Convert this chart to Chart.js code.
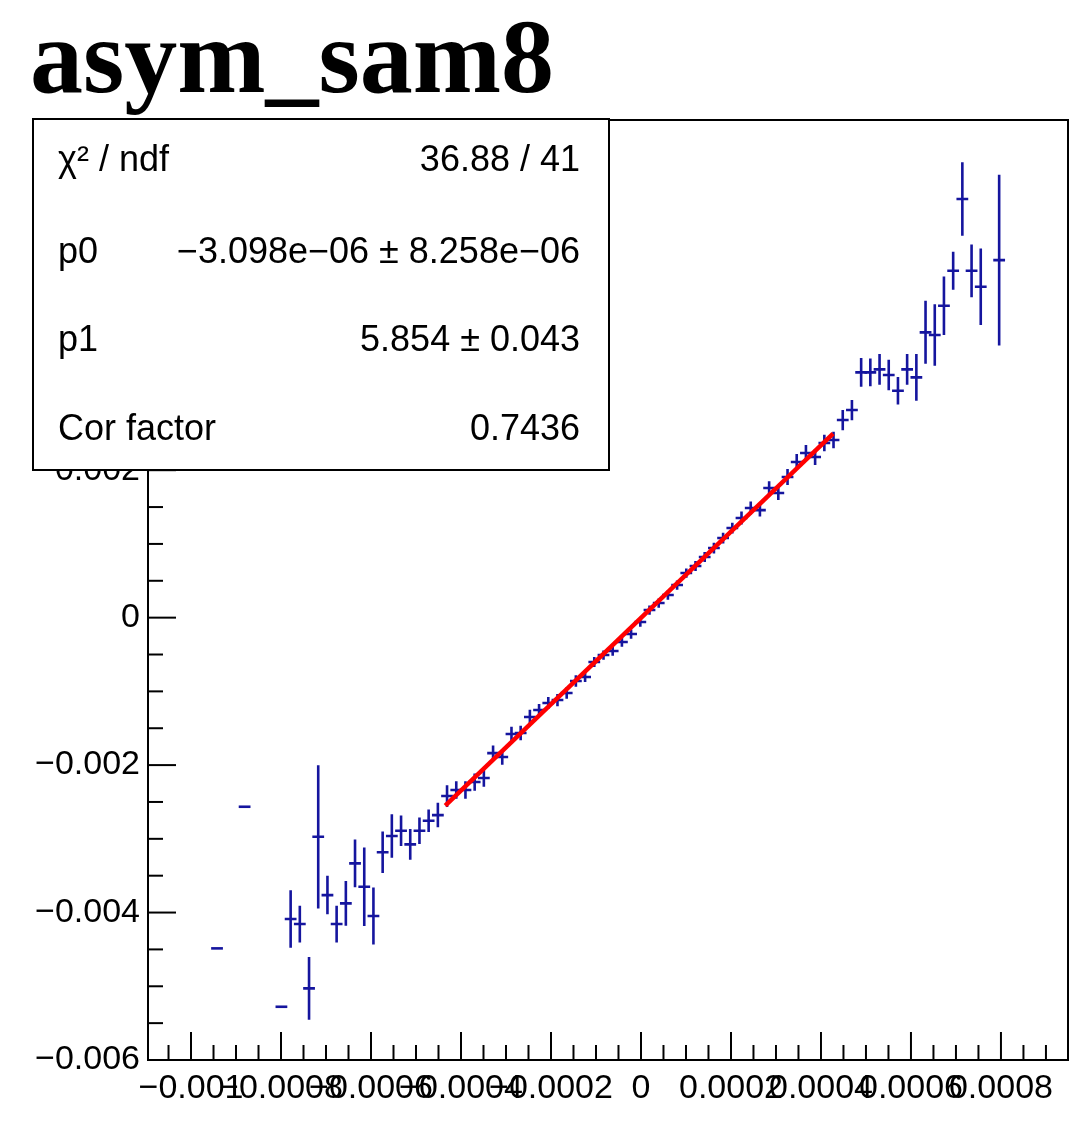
<!DOCTYPE html>
<html>
<head>
<meta charset="utf-8">
<title>asym_sam8</title>
<script src="https://cdn.jsdelivr.net/npm/chart.js@4.4.1/dist/chart.umd.min.js"></script>
<style>
  html, body { margin: 0; padding: 0; background: #fff; }
  canvas { display: block; }
</style>
</head>
<body>
<canvas id="asymChart" width="1088" height="1128"></canvas>
<script>
// bin centres, asymmetry per bin and its error (0 = single entry, no vertical bar)
var binCenters = [
  -0.0009422, -0.0008809, -0.0007991, -0.0007786, -0.0007582, -0.0007377, -0.0007173,
  -0.0006968, -0.0006764, -0.0006559, -0.0006355, -0.0006150, -0.0005946, -0.0005741,
  -0.0005537, -0.0005332, -0.0005128, -0.0004923, -0.0004719, -0.0004514, -0.0004310,
  -0.0004105, -0.0003901, -0.0003696, -0.0003492, -0.0003287, -0.0003083, -0.0002878,
  -0.0002674, -0.0002469, -0.0002265, -0.0002060, -0.0001856, -0.0001651, -0.0001447,
  -0.0001242, -0.0001038, -0.0000833, -0.0000629, -0.0000424, -0.0000220, -0.0000015,
  0.0000189, 0.0000394, 0.0000598, 0.0000803, 0.0001007, 0.0001212, 0.0001416,
  0.0001621, 0.0001825, 0.0002030, 0.0002234, 0.0002439, 0.0002643, 0.0002848,
  0.0003052, 0.0003257, 0.0003461, 0.0003666, 0.0003870, 0.0004075, 0.0004279,
  0.0004484, 0.0004688, 0.0004893, 0.0005097, 0.0005302, 0.0005506, 0.0005711,
  0.0005915, 0.0006120, 0.0006324, 0.0006529, 0.0006733, 0.0006938, 0.0007142,
  0.0007347, 0.0007551, 0.0007960
];
var asymValues = [
  -0.004486, -0.002565, -0.005278, -0.004088, -0.004156, -0.005028, -0.002972,
  -0.003763, -0.004156, -0.003875, -0.003333, -0.003650, -0.004047, -0.003183,
  -0.002962, -0.002890, -0.003075, -0.002890, -0.002755, -0.002678, -0.002420,
  -0.002338, -0.002338, -0.002230, -0.002176, -0.001837, -0.001891, -0.001579,
  -0.001565, -0.001348, -0.001253, -0.001158, -0.001118, -0.001023, -0.000860,
  -0.000806, -0.000602, -0.000507, -0.000453, -0.000331, -0.000222, -0.000060,
  0.000103, 0.000198, 0.000307, 0.000442, 0.000605, 0.000700, 0.000822,
  0.000944, 0.001080, 0.001215, 0.001351, 0.001487, 0.001459, 0.001758,
  0.001690, 0.001907, 0.002111, 0.002233, 0.002178, 0.002368, 0.002409,
  0.002680, 0.002816, 0.003327, 0.003327, 0.003368, 0.003291, 0.003078,
  0.003368, 0.003259, 0.003870, 0.003833, 0.004231, 0.004705, 0.005678,
  0.004705, 0.004488, 0.004850
];
var asymErrors = [
  0, 0, 0, 0.000373, 0.000231, 0.000407, 0.000954,
  0.000244, 0.000231, 0.000285, 0.000305, 0.000515, 0.000370, 0.000264,
  0.000278, 0.000190, 0.000190, 0.000163, 0.000136, 0.000149, 0.000130,
  0.000100, 0.000100, 0.000100, 0.000100, 0.000085, 0.000085, 0.000080,
  0.000080, 0.000080, 0.000065, 0.000065, 0.000065, 0.000060, 0.000060,
  0.000050, 0.000050, 0.000045, 0.000045, 0.000045, 0.000045, 0.000045,
  0.000045, 0.000045, 0.000045, 0.000045, 0.000045, 0.000050, 0.000050,
  0.000055, 0.000055, 0.000055, 0.000070, 0.000070, 0.000070, 0.000075,
  0.000075, 0.000090, 0.000090, 0.000090, 0.000090, 0.000095, 0.000095,
  0.000120, 0.000120, 0.000176, 0.000170, 0.000190, 0.000190, 0.000170,
  0.000190, 0.000300, 0.000410, 0.000400, 0.000380, 0.000240, 0.000480,
  0.000340, 0.000500, 0.001140
];
var binHalfWidth = 0.0000102;

// linear fit pol1: p0 + p1*x over the fit window
var p0 = -3.098e-06;
var p1 = 5.854;
var fitRange = [-0.000435, 0.000427];

var statLabels = ['\u03c7\u00b2 / ndf', 'p0', 'p1', 'Cor factor'];
var statValues = ['36.88 / 41', '\u22123.098e\u221206 \u00b1 8.258e\u221206', '5.854 \u00b1 0.043', '0.7436'];

var xTickValues = [-0.001, -0.0008, -0.0006, -0.0004, -0.0002, 0, 0.0002, 0.0004, 0.0006, 0.0008];
var xTickLabels = ['\u22120.001', '\u22120.0008', '\u22120.0006', '\u22120.0004', '\u22120.0002', '0', '0.0002', '0.0004', '0.0006', '0.0008'];
var yTickValues = [-0.006, -0.004, -0.002, 0, 0.002, 0.004, 0.006];
var yTickLabels = ['\u22120.006', '\u22120.004', '\u22120.002', '0', '0.002', '0.004', '0.006'];

function labelFor(values, labels, v) {
  for (var i = 0; i < values.length; i++) {
    if (Math.abs(values[i] - v) < 1e-9) return labels[i];
  }
  return '';
}

var points = binCenters.map(function (x, i) {
  return { x: x, y: asymValues[i], err: asymErrors[i] };
});
var fitPoints = fitRange.map(function (x) {
  return { x: x, y: p0 + p1 * x };
});

// vertical + horizontal bars for each bin
var errorBars = {
  id: 'errorBars',
  beforeDatasetsDraw: function (chart) {
    var ctx = chart.ctx, xs = chart.scales.x, ys = chart.scales.y;
    ctx.save();
    ctx.strokeStyle = '#15159e';
    ctx.lineWidth = 2.6;
    ctx.lineCap = 'square';
    chart.data.datasets[0].data.forEach(function (pt) {
      var px = xs.getPixelForValue(pt.x);
      var py = ys.getPixelForValue(pt.y);
      ctx.beginPath();
      ctx.moveTo(xs.getPixelForValue(pt.x - binHalfWidth), py);
      ctx.lineTo(xs.getPixelForValue(pt.x + binHalfWidth), py);
      if (pt.err > 0) {
        ctx.moveTo(px, ys.getPixelForValue(pt.y + pt.err));
        ctx.lineTo(px, ys.getPixelForValue(pt.y - pt.err));
      }
      ctx.stroke();
    });
    ctx.restore();
  }
};

// ROOT-style frame with ticks pointing inwards
function drawAxisTicks(ctx, scale, step, every, horizontal, area) {
  scale.ticks.forEach(function (t) {
    var n = Math.round(t.value / step);
    if (Math.abs(t.value - n * step) > step * 1e-3) return;
    var len = (Math.abs(n) % every === 0) ? 28 : 15;
    var p = scale.getPixelForValue(t.value);
    ctx.beginPath();
    if (horizontal) {
      ctx.moveTo(p, area.bottom);
      ctx.lineTo(p, area.bottom - len);
    } else {
      ctx.moveTo(area.left, p);
      ctx.lineTo(area.left + len, p);
    }
    ctx.stroke();
  });
}

var frame = {
  id: 'frame',
  afterDatasetsDraw: function (chart) {
    var ctx = chart.ctx, a = chart.chartArea;
    ctx.save();
    ctx.strokeStyle = '#000';
    ctx.lineWidth = 2;
    drawAxisTicks(ctx, chart.scales.x, 0.00005, 4, true, a);
    drawAxisTicks(ctx, chart.scales.y, 0.0005, 4, false, a);
    ctx.strokeRect(a.left, a.top, a.right - a.left, a.bottom - a.top);
    ctx.restore();
  }
};

// title and fit statistics box
var statRowY = [161, 253, 341, 430];
var overlay = {
  id: 'overlay',
  afterDraw: function (chart) {
    var ctx = chart.ctx;
    ctx.save();
    ctx.fillStyle = '#000';
    ctx.font = 'bold 106px "Liberation Serif"';
    ctx.textBaseline = 'alphabetic';
    ctx.textAlign = 'left';
    ctx.fillText('asym_sam8', 30, 92);

    var bx = 33, by = 119, bw = 576, bh = 351;
    ctx.fillStyle = '#fff';
    ctx.fillRect(bx, by, bw, bh);
    ctx.strokeStyle = '#000';
    ctx.lineWidth = 2;
    ctx.strokeRect(bx, by, bw, bh);

    ctx.fillStyle = '#000';
    ctx.font = '36px "Liberation Sans"';
    ctx.textBaseline = 'middle';
    statLabels.forEach(function (lab, i) {
      ctx.textAlign = 'left';
      ctx.fillText(lab, 58, statRowY[i]);
      ctx.textAlign = 'right';
      ctx.fillText(statValues[i], 580, statRowY[i]);
    });
    ctx.restore();
  }
};

Chart.defaults.font.family = '"Liberation Sans", Arial, sans-serif';
Chart.defaults.color = '#000';

var ctx = document.getElementById('asymChart').getContext('2d');
var asymChart = new Chart(ctx, {
  type: 'scatter',
  data: {
    datasets: [{
      label: 'asym',
      data: points,
      pointRadius: 0,
      showLine: false
    }, {
      label: 'pol1',
      data: fitPoints,
      showLine: true,
      borderColor: '#ff0000',
      borderWidth: 4.5,
      pointRadius: 0
    }]
  },
  options: {
    responsive: false,
    animation: false,
    devicePixelRatio: 1,
    layout: { padding: { top: 120, right: 20, left: 0, bottom: 0 } },
    plugins: {
      legend: { display: false },
      tooltip: { enabled: false }
    },
    scales: {
      x: {
        type: 'linear',
        min: -0.0010956,
        max: 0.000949,
        grid: { display: false, drawTicks: false },
        border: { display: false },
        ticks: {
          stepSize: 0.00005,
          includeBounds: false,
          autoSkip: false,
          maxRotation: 0,
          minRotation: 0,
          padding: 8,
          font: { size: 34 },
          callback: function (v) { return labelFor(xTickValues, xTickLabels, v); }
        },
        afterFit: function (scale) { scale.height = 68; }
      },
      y: {
        type: 'linear',
        min: -0.006,
        max: 0.00675,
        grid: { display: false, drawTicks: false },
        border: { display: false },
        ticks: {
          stepSize: 0.0005,
          includeBounds: false,
          autoSkip: false,
          padding: 8,
          font: { size: 34 },
          callback: function (v) { return labelFor(yTickValues, yTickLabels, v); }
        },
        afterFit: function (scale) { scale.width = 148; }
      }
    }
  },
  plugins: [errorBars, frame, overlay]
});
</script>
</body>
</html>
